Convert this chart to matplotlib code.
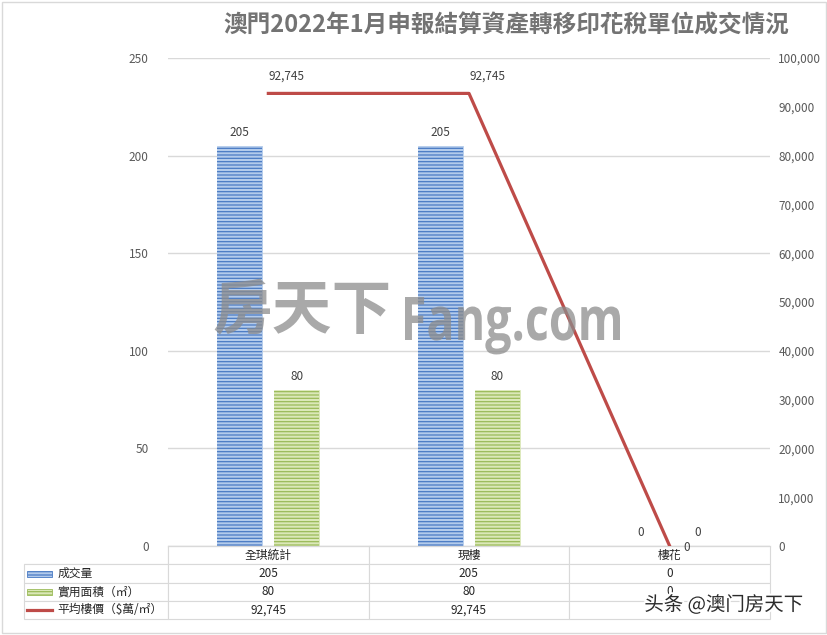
import matplotlib
matplotlib.use("Agg")
import matplotlib.pyplot as plt
import matplotlib.patheffects as pe
from matplotlib.patches import Rectangle, PathPatch
from matplotlib.lines import Line2D
from matplotlib.textpath import TextPath
from matplotlib.font_manager import FontProperties
from matplotlib.transforms import Affine2D
from matplotlib.ticker import FuncFormatter, MultipleLocator
import numpy as np

plt.rcParams["font.family"] = ["Noto Sans CJK TC", "DejaVu Sans"]
plt.rcParams["hatch.linewidth"] = 0.9

# data
categories = ["全琪統計", "現樓", "樓花"]
series_names = ["成交量", "實用面積（㎡）", "平均樓價（$萬/㎡）"]
deals = [205, 205, 0]
area = [80, 80, 0]
avg_price = [92745, 92745, 0]

BLUE_FACE, BLUE_HATCH = "#b3cbeb", "#4a7bc4"
GREEN_FACE, GREEN_HATCH = "#dbe8b8", "#9bbb59"
RED = "#be4b48"
GRID = "#d9d9d9"
TXT = "#595959"

fig = plt.figure(figsize=(8.28, 6.35), dpi=100)
ax = fig.add_axes([168 / 828, 1 - 546 / 635, 602 / 828, 488 / 635])
ax2 = ax.twinx()

x = np.arange(len(categories))
w = 0.224
off = 0.142


def hatched_bar(axis, xs, vals, face, hatch_col):
    b = axis.bar(xs, vals, w, color=face, edgecolor=face, linewidth=0.6, zorder=2)
    axis.bar(xs, vals, w, color="none", edgecolor=hatch_col, linewidth=0,
             hatch="-----", zorder=3)
    return b


b1 = hatched_bar(ax, x - off, deals, BLUE_FACE, BLUE_HATCH)
b2 = hatched_bar(ax, x + off, area, GREEN_FACE, GREEN_HATCH)
for b in (b1, b2):
    ax.bar_label(b, padding=5, fontsize=8.5, color="#404040")

ax.set_xlim(-0.5, 2.5)
ax.set_ylim(0, 250)
ax.yaxis.set_major_locator(MultipleLocator(50))
ax.grid(axis="y", color=GRID, linewidth=1, zorder=0)
ax.set_axisbelow(True)
ax.set_xticks([])
ax.tick_params(axis="y", length=0, labelsize=8.5, labelcolor=TXT, pad=14)

ax2.plot(x, avg_price, color=RED, linewidth=2.3, zorder=5)
ax2.set_ylim(0, 100000)
ax2.yaxis.set_major_locator(MultipleLocator(10000))
ax2.yaxis.set_major_formatter(FuncFormatter(lambda v, p: f"{v:,.0f}"))
ax2.tick_params(axis="y", length=0, labelsize=8.5, labelcolor=TXT, pad=6)
label_offsets = [(13, 8), (13, 8), (12, -6)]
for xi, v, o in zip(x, avg_price, label_offsets):
    ax2.annotate(f"{v:,}", (xi, v), xytext=o, textcoords="offset points",
                 ha="center", va="bottom", fontsize=8.5, color="#404040")

for a in (ax, ax2):
    for s in ("left", "right", "top"):
        a.spines[s].set_visible(False)
    a.spines["bottom"].set_color(GRID)

# data table below the axes, first column holds the series names
cell_text = [[name] + [f"{v:,}" for v in row]
             for name, row in zip(series_names, (deals, area, avg_price))]
tb = ax.table(cellText=cell_text, colLabels=[""] + categories, cellLoc="center",
              colWidths=[144, 201, 201, 201],
              bbox=[-144 / 602, -73 / 488, 746 / 602, 73 / 488])
tb.auto_set_font_size(False)
for (r, c), cell in tb.get_celld().items():
    cell.set_edgecolor(GRID)
    cell.set_linewidth(0.8)
    cell.get_text().set_fontsize(8.5)
    cell.get_text().set_color("#262626")
    if c == 0:
        cell.get_text().set_ha("left")
        cell._loc = "left"
        cell.PAD = 0.235
        if r == 0:
            cell.visible_edges = "BR"

# legend keys inside the row labels
row_y = [574, 592, 610]
kx0, kx1 = (27 - 168) / 602, (52 - 168) / 602
for i, (face, hc) in enumerate([(BLUE_FACE, BLUE_HATCH), (GREEN_FACE, GREEN_HATCH)]):
    yc = (546 - row_y[i]) / 488
    ax.add_patch(Rectangle((kx0, yc - 3 / 488), kx1 - kx0, 6 / 488, transform=ax.transAxes,
                           facecolor=face, edgecolor=hc, hatch="-----", linewidth=0.6,
                           clip_on=False, zorder=6))
yc = (546 - row_y[2]) / 488
ax.add_line(Line2D([kx0, kx1], [yc, yc], transform=ax.transAxes, color=RED,
                   linewidth=2.3, clip_on=False, zorder=6))

fig.text(506 / 828, 1 - 26 / 635, "澳門2022年1月申報結算資產轉移印花稅單位成交情況",
         ha="center", va="center", fontsize=17, fontweight="bold", color="#737373")

# watermarks
fig.text(302 / 828, 1 - 312 / 635, "房天下", ha="center", va="center", fontsize=43,
         fontweight="bold", color="#8c8c8c", alpha=0.75, zorder=10)
fp = FontProperties(family="Open Sans", weight="bold")
tp = TextPath((0, 0), "Fang.com", size=1, prop=fp)
cap = TextPath((0, 0), "F", size=1, prop=fp).get_extents().height
ext = tp.get_extents()
sx, sy = 215 / ext.width, 43 / cap
wm = PathPatch(tp, facecolor="#8c8c8c", edgecolor="none", alpha=0.75, zorder=10,
               transform=Affine2D().translate(-ext.x0, 0).scale(sx, sy).translate(405, 635 - 340))
fig.add_artist(wm)
fig.text(724 / 828, 1 - 605 / 635, "头条 @澳门房天下", ha="center", va="center",
         fontsize=14, color="#2b2b2b", family=["Noto Sans CJK SC", "DejaVu Sans"],
         path_effects=[pe.withStroke(linewidth=3, foreground="white")], zorder=10)

fig.patches.append(Rectangle((0.002, 0.003), 0.995, 0.994, transform=fig.transFigure,
                             fill=False, edgecolor=GRID, linewidth=1))

fig.savefig("out.png", dpi=100)
